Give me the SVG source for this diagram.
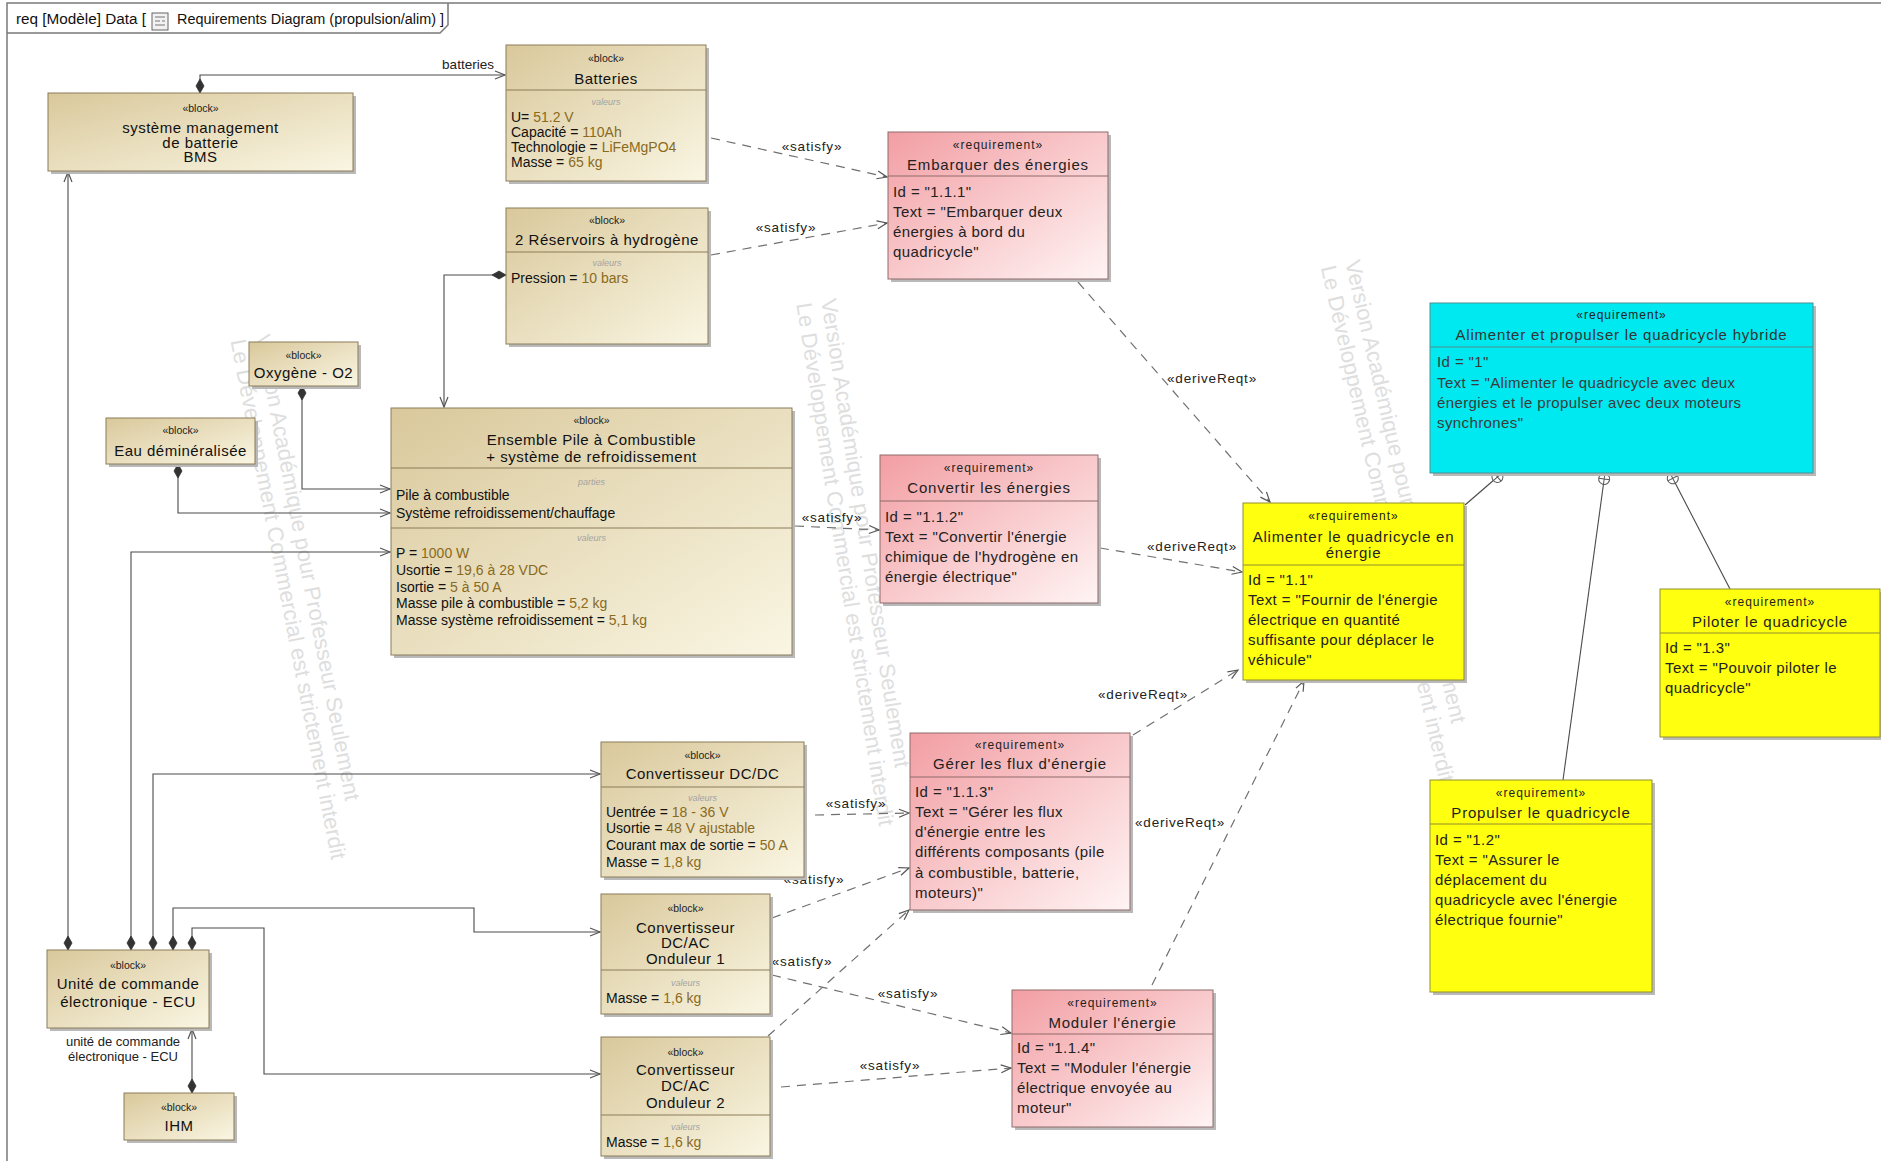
<svg xmlns="http://www.w3.org/2000/svg" width="1881" height="1161" viewBox="0 0 1881 1161">
<defs>
<linearGradient id="gBlock" x1="0" y1="0" x2="1" y2="1">
<stop offset="0" stop-color="#d9c89b"/><stop offset="1" stop-color="#faf6e3"/>
</linearGradient>
<linearGradient id="gReq" x1="0" y1="0" x2="1" y2="1">
<stop offset="0" stop-color="#f29ea3"/><stop offset="1" stop-color="#fff4f4"/>
</linearGradient>
<marker id="arr" markerUnits="userSpaceOnUse" markerWidth="12" markerHeight="10" viewBox="0 0 12 10" refX="11" refY="5" orient="auto">
<path d="M1,1 L11,5 L1,9" fill="none" stroke="#555" stroke-width="1.2"/>
</marker>
<marker id="dia" markerUnits="userSpaceOnUse" markerWidth="16" markerHeight="10" viewBox="0 0 16 10" refX="0" refY="5" orient="auto">
<path d="M0,5 L7,1 L14,5 L7,9 Z" fill="#333" stroke="#333" stroke-width="0.8"/>
</marker>
<marker id="cir" markerUnits="userSpaceOnUse" markerWidth="14" markerHeight="14" viewBox="0 0 14 14" refX="1" refY="7" orient="auto">
<circle cx="7" cy="7" r="5.5" fill="#fff" stroke="#555" stroke-width="1"/>
<path d="M1.5,7 H12.5 M7,1.5 V12.5" stroke="#555" stroke-width="1"/>
</marker>
<style>
text{font-family:'Liberation Sans',Arial,sans-serif;}
.sh{fill:#b9b9b9;}
.bf{fill:url(#gBlock);stroke:#8c7d58;stroke-width:1;}
.rf{fill:url(#gReq);stroke:#8f6a6a;stroke-width:1;}
.yf{fill:#ffff10;stroke:#8f8f30;stroke-width:1;}
.cf{fill:#00e8f0;stroke:#4f8f8f;stroke-width:1;}
.sepb{stroke:#8c7d58;stroke-width:1;}
.sepr{stroke:#8f6a6a;stroke-width:1;}
.sepy{stroke:#8f8f30;stroke-width:1;}
.sepc{stroke:#4f8f8f;stroke-width:1;}
.st{font-size:10.5px;text-anchor:middle;fill:#222;}
.rst{font-size:12px;letter-spacing:1px;text-anchor:middle;fill:#222;}
.bn{font-size:15px;letter-spacing:0.5px;text-anchor:middle;fill:#111;}
.rn{font-size:15px;letter-spacing:0.8px;text-anchor:middle;fill:#222;}
.bb{font-size:14px;fill:#111;}
.v{fill:#8a6a1c;}
.rb{font-size:15px;letter-spacing:0.4px;fill:#222;}
.cb{font-size:15px;letter-spacing:0.4px;fill:#3a3a3a;}
.sec{font-size:9px;font-style:italic;fill:#a3a3a3;text-anchor:middle;}
.lbl{font-size:13.5px;letter-spacing:0.8px;fill:#222;text-anchor:middle;}
.role{font-size:13px;fill:#222;text-anchor:middle;}
.wm{font-size:22px;fill:#dedede;}
.solid{fill:none;stroke:#4a4a4a;stroke-width:1.1;}
.dash{fill:none;stroke:#707070;stroke-width:1.2;stroke-dasharray:9 7;}
.frame{fill:none;stroke:#7a7a7a;stroke-width:1.5;}
</style>
</defs>
<rect x="0" y="0" width="1881" height="1161" fill="#ffffff"/>

<g id="watermarks">
<text class="wm" transform="translate(255,336) rotate(79)"><tspan x="0" y="0">Version Académique pour Professeur Seulement</tspan><tspan x="0" y="25">Le Développement Commercial est strictement interdit</tspan></text>
<text class="wm" transform="translate(821,300) rotate(81)"><tspan x="0" y="0">Version Académique pour Professeur Seulement</tspan><tspan x="0" y="25">Le Développement Commercial est strictement interdit</tspan></text>
<text class="wm" transform="translate(1345,262) rotate(77)"><tspan x="0" y="0">Version Académique pour Professeur Seulement</tspan><tspan x="0" y="25">Le Développement Commercial est strictement interdit</tspan></text>
</g>

<g id="frame">
<path class="frame" d="M7,1161 L7,3 L1881,3"/>
<path class="frame" d="M7,33 L440,33 L448,25 L448,3"/>
<text x="16" y="24" textLength="130" lengthAdjust="spacingAndGlyphs" style="font-size:14px;fill:#111;">req [Modèle] Data [</text>
<rect x="152" y="13" width="16" height="17" fill="#f2f2f2" stroke="#666" stroke-width="1"/>
<path d="M155,17 H165 M155,21 H160 M162,21 H165 M155,25 H165" stroke="#777" stroke-width="1.2"/>
<text x="177" y="24" textLength="267" lengthAdjust="spacingAndGlyphs" style="font-size:14px;fill:#111;">Requirements Diagram (propulsion/alim) ]</text>
</g>

<g id="connectors">
<path class="solid" d="M200,93 L200,75 L505,75" marker-start="url(#dia)" marker-end="url(#arr)"/>
<text x="468" y="69" style="font-size:13.5px;fill:#222;text-anchor:middle;">batteries</text>
<path class="solid" d="M68,950 L68,172" marker-start="url(#dia)" marker-end="url(#arr)"/>
<path class="solid" d="M131,950 L131,552 L390,552" marker-start="url(#dia)" marker-end="url(#arr)"/>
<path class="solid" d="M153,950 L153,774 L600,774" marker-start="url(#dia)" marker-end="url(#arr)"/>
<path class="solid" d="M173,950 L173,908 L474,908 L474,932 L600,932" marker-start="url(#dia)" marker-end="url(#arr)"/>
<path class="solid" d="M192,950 L192,928 L264,928 L264,1074 L600,1074" marker-start="url(#dia)" marker-end="url(#arr)"/>
<path class="solid" d="M192,1093 L192,1029" marker-start="url(#dia)" marker-end="url(#arr)"/>
<path class="solid" d="M302,386 L302,489 L390,489" marker-start="url(#dia)" marker-end="url(#arr)"/>
<path class="solid" d="M178,464 L178,513 L390,513" marker-start="url(#dia)" marker-end="url(#arr)"/>
<path class="solid" d="M506,275 L444,275 L444,407" marker-start="url(#dia)" marker-end="url(#arr)"/>

<path class="solid" d="M1502,473 L1465,505" marker-start="url(#cir)"/>
<path class="solid" d="M1605,473 L1563,780" marker-start="url(#cir)"/>
<path class="solid" d="M1670,473 L1730,589" marker-start="url(#cir)"/>

<path class="dash" d="M711,138 L887,177" marker-end="url(#arr)"/>
<text class="lbl" x="812" y="151">«satisfy»</text>
<path class="dash" d="M711,255 L887,223" marker-end="url(#arr)"/>
<text class="lbl" x="786" y="232">«satisfy»</text>
<path class="dash" d="M795,526 L879,530" marker-end="url(#arr)"/>
<text class="lbl" x="832" y="522">«satisfy»</text>
<path class="dash" d="M815,815 L909,813" marker-end="url(#arr)"/>
<text class="lbl" x="856" y="808">«satisfy»</text>
<path class="dash" d="M772,918 L909,868" marker-end="url(#arr)"/>
<text class="lbl" x="814" y="884">«satisfy»</text>
<path class="dash" d="M768,1036 L909,910" marker-end="url(#arr)"/>
<text class="lbl" x="802" y="966">«satisfy»</text>
<path class="dash" d="M772,975 L1011,1033" marker-end="url(#arr)"/>
<text class="lbl" x="908" y="998">«satisfy»</text>
<path class="dash" d="M781,1087 L1011,1068" marker-end="url(#arr)"/>
<text class="lbl" x="890" y="1070">«satisfy»</text>

<path class="dash" d="M1078,282 L1270,502" marker-end="url(#arr)"/>
<text class="lbl" x="1212" y="383">«deriveReqt»</text>
<path class="dash" d="M1100,548 L1242,572" marker-end="url(#arr)"/>
<text class="lbl" x="1192" y="551">«deriveReqt»</text>
<path class="dash" d="M1133,735 L1238,670" marker-end="url(#arr)"/>
<text class="lbl" x="1143" y="699">«deriveReqt»</text>
<path class="dash" d="M1152,985 L1304,681" marker-end="url(#arr)"/>
<text class="lbl" x="1180" y="827">«deriveReqt»</text>
</g>

<g id="n-bms">
<rect class="sh" x="51" y="96" width="305" height="78"/>
<rect class="bf" x="48" y="93" width="305" height="78"/>
<text class="st" x="200.5" y="112">«block»</text>
<text class="bn" x="200.5" y="133">système management</text>
<text class="bn" x="200.5" y="148">de batterie</text>
<text class="bn" x="200.5" y="162">BMS</text>
</g>

<g id="n-batteries">
<rect class="sh" x="509" y="48" width="200" height="136"/>
<rect class="bf" x="506" y="45" width="200" height="136"/>
<text class="st" x="606" y="62">«block»</text>
<text class="bn" x="606" y="84">Batteries</text>
<line class="sepb" x1="506" y1="90" x2="706" y2="90"/>
<text class="sec" x="606" y="105">valeurs</text>
<text class="bb" x="511" y="122">U= <tspan class="v">51.2 V</tspan></text>
<text class="bb" x="511" y="137">Capacité = <tspan class="v">110Ah</tspan></text>
<text class="bb" x="511" y="152">Technologie = <tspan class="v">LiFeMgPO4</tspan></text>
<text class="bb" x="511" y="167">Masse =  <tspan class="v">65 kg</tspan></text>
</g>

<g id="n-reservoirs">
<rect class="sh" x="509" y="211" width="202" height="136"/>
<rect class="bf" x="506" y="208" width="202" height="136"/>
<text class="st" x="607" y="224">«block»</text>
<text class="bn" x="607" y="245">2 Réservoirs à hydrogène</text>
<line class="sepb" x1="506" y1="252" x2="708" y2="252"/>
<text class="sec" x="607" y="266">valeurs</text>
<text class="bb" x="511" y="283">Pression = <tspan class="v">10 bars</tspan></text>
</g>

<g id="n-oxygene">
<rect class="sh" x="252" y="345" width="109" height="44"/>
<rect class="bf" x="249" y="342" width="109" height="44"/>
<text class="st" x="303.5" y="359">«block»</text>
<text class="bn" x="303.5" y="378">Oxygène - O2</text>
</g>

<g id="n-eau">
<rect class="sh" x="109" y="421" width="149" height="46"/>
<rect class="bf" x="106" y="418" width="149" height="46"/>
<text class="st" x="180.5" y="434">«block»</text>
<text class="bn" x="180.5" y="456">Eau déminéralisée</text>
</g>

<g id="n-ensemble">
<rect class="sh" x="394" y="411" width="401" height="247"/>
<rect class="bf" x="391" y="408" width="401" height="247"/>
<text class="st" x="591.5" y="424">«block»</text>
<text class="bn" x="591.5" y="445">Ensemble Pile à Combustible</text>
<text class="bn" x="591.5" y="462">+ système de refroidissement</text>
<line class="sepb" x1="391" y1="468" x2="792" y2="468"/>
<text class="sec" x="591.5" y="485">parties</text>
<text class="bb" x="396" y="500">Pile à combustible</text>
<text class="bb" x="396" y="518">Système refroidissement/chauffage</text>
<line class="sepb" x1="391" y1="528" x2="792" y2="528"/>
<text class="sec" x="591.5" y="541">valeurs</text>
<text class="bb" x="396" y="558">P = <tspan class="v">1000 W</tspan></text>
<text class="bb" x="396" y="575">Usortie = <tspan class="v">19,6 à 28 VDC</tspan></text>
<text class="bb" x="396" y="592">Isortie = <tspan class="v">5 à 50 A</tspan></text>
<text class="bb" x="396" y="608">Masse pile à combustible = <tspan class="v">5,2 kg</tspan></text>
<text class="bb" x="396" y="625">Masse système refroidissement = <tspan class="v">5,1 kg</tspan></text>
</g>

<g id="n-dcdc">
<rect class="sh" x="604" y="745" width="203" height="135"/>
<rect class="bf" x="601" y="742" width="203" height="135"/>
<text class="st" x="702.5" y="759">«block»</text>
<text class="bn" x="702.5" y="779">Convertisseur DC/DC</text>
<line class="sepb" x1="601" y1="787" x2="804" y2="787"/>
<text class="sec" x="702.5" y="801">valeurs</text>
<text class="bb" x="606" y="817">Uentrée = <tspan class="v">18 - 36 V</tspan></text>
<text class="bb" x="606" y="833">Usortie = <tspan class="v">48 V ajustable</tspan></text>
<text class="bb" x="606" y="850">Courant max de sortie = <tspan class="v">50 A</tspan></text>
<text class="bb" x="606" y="867">Masse = <tspan class="v">1,8 kg</tspan></text>
</g>

<g id="n-onduleur1">
<rect class="sh" x="604" y="897" width="169" height="120"/>
<rect class="bf" x="601" y="894" width="169" height="120"/>
<text class="st" x="685.5" y="912">«block»</text>
<text class="bn" x="685.5" y="933">Convertisseur</text>
<text class="bn" x="685.5" y="948">DC/AC</text>
<text class="bn" x="685.5" y="964">Onduleur 1</text>
<line class="sepb" x1="601" y1="970" x2="770" y2="970"/>
<text class="sec" x="685.5" y="986">valeurs</text>
<text class="bb" x="606" y="1003">Masse = <tspan class="v">1,6 kg</tspan></text>
</g>

<g id="n-onduleur2">
<rect class="sh" x="604" y="1040" width="169" height="119"/>
<rect class="bf" x="601" y="1037" width="169" height="119"/>
<text class="st" x="685.5" y="1056">«block»</text>
<text class="bn" x="685.5" y="1075">Convertisseur</text>
<text class="bn" x="685.5" y="1091">DC/AC</text>
<text class="bn" x="685.5" y="1108">Onduleur 2</text>
<line class="sepb" x1="601" y1="1115" x2="770" y2="1115"/>
<text class="sec" x="685.5" y="1130">valeurs</text>
<text class="bb" x="606" y="1147">Masse = <tspan class="v">1,6 kg</tspan></text>
</g>

<g id="n-ecu">
<rect class="sh" x="50" y="953" width="162" height="78"/>
<rect class="bf" x="47" y="950" width="162" height="78"/>
<text class="st" x="128" y="969">«block»</text>
<text class="bn" x="128" y="989">Unité de commande</text>
<text class="bn" x="128" y="1007">électronique - ECU</text>
<text class="role" x="123" y="1046">unité de commande</text>
<text class="role" x="123" y="1061">électronique - ECU</text>
</g>

<g id="n-ihm">
<rect class="sh" x="127" y="1096" width="110" height="47"/>
<rect class="bf" x="124" y="1093" width="110" height="47"/>
<text class="st" x="179" y="1111">«block»</text>
<text class="bn" x="179" y="1131">IHM</text>
</g>

<g id="r-embarquer">
<rect class="sh" x="891" y="135" width="220" height="147"/>
<rect class="rf" x="888" y="132" width="220" height="147"/>
<text class="rst" x="998" y="149">«requirement»</text>
<text class="rn" x="998" y="170">Embarquer des énergies</text>
<line class="sepr" x1="888" y1="176" x2="1108" y2="176"/>
<text class="rb" x="893" y="197">Id = "1.1.1"</text>
<text class="rb" x="893" y="217">Text = "Embarquer deux</text>
<text class="rb" x="893" y="237">énergies à bord du</text>
<text class="rb" x="893" y="257">quadricycle"</text>
</g>

<g id="r-convertir">
<rect class="sh" x="883" y="458" width="218" height="148"/>
<rect class="rf" x="880" y="455" width="218" height="148"/>
<text class="rst" x="989" y="472">«requirement»</text>
<text class="rn" x="989" y="493">Convertir les énergies</text>
<line class="sepr" x1="880" y1="501" x2="1098" y2="501"/>
<text class="rb" x="885" y="522">Id = "1.1.2"</text>
<text class="rb" x="885" y="542">Text = "Convertir l'énergie</text>
<text class="rb" x="885" y="562">chimique de l'hydrogène en</text>
<text class="rb" x="885" y="582">énergie électrique"</text>
</g>

<g id="r-gerer">
<rect class="sh" x="913" y="736" width="220" height="177"/>
<rect class="rf" x="910" y="733" width="220" height="177"/>
<text class="rst" x="1020" y="749">«requirement»</text>
<text class="rn" x="1020" y="769">Gérer les flux d'énergie</text>
<line class="sepr" x1="910" y1="777" x2="1130" y2="777"/>
<text class="rb" x="915" y="797">Id = "1.1.3"</text>
<text class="rb" x="915" y="817">Text = "Gérer les flux</text>
<text class="rb" x="915" y="837">d'énergie entre les</text>
<text class="rb" x="915" y="857">différents composants (pile</text>
<text class="rb" x="915" y="878">à combustible, batterie,</text>
<text class="rb" x="915" y="898">moteurs)"</text>
</g>

<g id="r-moduler">
<rect class="sh" x="1015" y="993" width="201" height="137"/>
<rect class="rf" x="1012" y="990" width="201" height="137"/>
<text class="rst" x="1112.5" y="1007">«requirement»</text>
<text class="rn" x="1112.5" y="1028">Moduler l'énergie</text>
<line class="sepr" x1="1012" y1="1034" x2="1213" y2="1034"/>
<text class="rb" x="1017" y="1053">Id = "1.1.4"</text>
<text class="rb" x="1017" y="1073">Text = "Moduler l'énergie</text>
<text class="rb" x="1017" y="1093">électrique envoyée au</text>
<text class="rb" x="1017" y="1113">moteur"</text>
</g>

<g id="r-alimenter">
<rect class="sh" x="1246" y="506" width="221" height="177"/>
<rect class="yf" x="1243" y="503" width="221" height="177"/>
<text class="rst" x="1353.5" y="520">«requirement»</text>
<text class="rn" x="1353.5" y="542">Alimenter le quadricycle en</text>
<text class="rn" x="1353.5" y="558">énergie</text>
<line class="sepy" x1="1243" y1="565" x2="1464" y2="565"/>
<text class="rb" x="1248" y="585">Id = "1.1"</text>
<text class="rb" x="1248" y="605">Text = "Fournir de l'énergie</text>
<text class="rb" x="1248" y="625">électrique en quantité</text>
<text class="rb" x="1248" y="645">suffisante pour déplacer le</text>
<text class="rb" x="1248" y="665">véhicule"</text>
</g>

<g id="r-hybride">
<rect class="sh" x="1433" y="306" width="383" height="170"/>
<rect class="cf" x="1430" y="303" width="383" height="170"/>
<text class="rst" x="1621.5" y="319">«requirement»</text>
<text class="rn" x="1621.5" y="340" style="fill:#333;">Alimenter et propulser le quadricycle hybride</text>
<line class="sepc" x1="1430" y1="347" x2="1813" y2="347"/>
<text class="cb" x="1437" y="367">Id = "1"</text>
<text class="cb" x="1437" y="388">Text = "Alimenter le quadricycle avec deux</text>
<text class="cb" x="1437" y="408">énergies et le propulser avec deux moteurs</text>
<text class="cb" x="1437" y="428">synchrones"</text>
</g>

<g id="r-piloter">
<rect class="sh" x="1663" y="592" width="220" height="148"/>
<rect class="yf" x="1660" y="589" width="220" height="148"/>
<text class="rst" x="1770" y="606">«requirement»</text>
<text class="rn" x="1770" y="627">Piloter le quadricycle</text>
<line class="sepy" x1="1660" y1="633" x2="1880" y2="633"/>
<text class="rb" x="1665" y="653">Id = "1.3"</text>
<text class="rb" x="1665" y="673">Text = "Pouvoir piloter le</text>
<text class="rb" x="1665" y="693">quadricycle"</text>
</g>

<g id="r-propulser">
<rect class="sh" x="1433" y="783" width="222" height="212"/>
<rect class="yf" x="1430" y="780" width="222" height="212"/>
<text class="rst" x="1541" y="797">«requirement»</text>
<text class="rn" x="1541" y="818">Propulser le quadricycle</text>
<line class="sepy" x1="1430" y1="824" x2="1652" y2="824"/>
<text class="rb" x="1435" y="845">Id = "1.2"</text>
<text class="rb" x="1435" y="865">Text = "Assurer le</text>
<text class="rb" x="1435" y="885">déplacement du</text>
<text class="rb" x="1435" y="905">quadricycle avec l'énergie</text>
<text class="rb" x="1435" y="925">électrique fournie"</text>
</g>
</svg>
